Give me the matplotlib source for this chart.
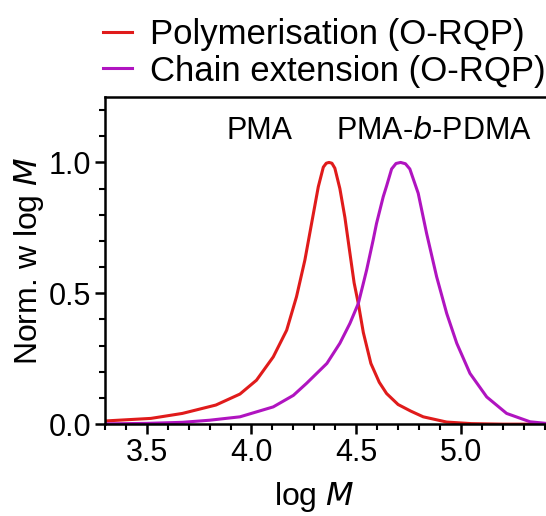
import matplotlib
matplotlib.use("Agg")
import matplotlib.pyplot as plt
from matplotlib.ticker import MultipleLocator

plt.rcParams['font.family'] = ['Liberation Sans', 'DejaVu Sans']

# GPC traces (normalised w log M) vs log M
logM_pma = [3.30, 3.32, 3.52, 3.67, 3.83, 3.945, 4.024, 4.104, 4.168, 4.215, 4.255,
            4.287, 4.319, 4.343, 4.357, 4.370, 4.384, 4.398, 4.422, 4.446, 4.470,
            4.490, 4.51, 4.534, 4.57, 4.61, 4.645, 4.70, 4.76, 4.82, 4.932, 5.05,
            5.2, 5.41]
w_pma = [0.012, 0.013, 0.022, 0.041, 0.073, 0.115, 0.168, 0.257, 0.359, 0.487, 0.627,
         0.767, 0.907, 0.982, 0.997, 1.0, 0.997, 0.978, 0.90, 0.79, 0.653,
         0.54, 0.461, 0.35, 0.232, 0.16, 0.117, 0.075, 0.05, 0.028, 0.008, 0.002,
         0.0, 0.0]

logM_ext = [3.30, 3.50, 3.67, 3.80, 3.945, 4.104, 4.20, 4.263, 4.36, 4.422, 4.470,
            4.51, 4.534, 4.55, 4.581, 4.597, 4.629, 4.645, 4.669, 4.69, 4.712,
            4.735, 4.756, 4.796, 4.836, 4.884, 4.932, 4.98, 5.043, 5.123, 5.218,
            5.33, 5.406]
w_ext = [0.001, 0.003, 0.007, 0.015, 0.028, 0.066, 0.11, 0.156, 0.232, 0.309, 0.385,
         0.461, 0.538, 0.59, 0.704, 0.767, 0.869, 0.91, 0.975, 0.996, 1.0,
         0.995, 0.975, 0.882, 0.729, 0.563, 0.423, 0.309, 0.194, 0.104, 0.041,
         0.009, 0.003]

fig = plt.figure(figsize=(5.46, 5.16), dpi=100)
ax = fig.add_axes([0.192, 0.178, 0.808, 0.634])

l1, = ax.plot(logM_pma, w_pma, color='#e01b1b', lw=2.2, solid_joinstyle='round',
              label='Polymerisation (O-RQP)')
l2, = ax.plot(logM_ext, w_ext, color='#b014c0', lw=2.2, solid_joinstyle='round',
              label='Chain extension (O-RQP)')

ax.set_xlim(3.3, 5.406)
ax.set_ylim(0, 1.25)
ax.xaxis.set_major_locator(MultipleLocator(0.5))
ax.xaxis.set_minor_locator(MultipleLocator(0.1))
ax.yaxis.set_major_locator(MultipleLocator(0.5))
ax.yaxis.set_minor_locator(MultipleLocator(0.1))
ax.xaxis.set_major_formatter('{x:.1f}')
ax.yaxis.set_major_formatter('{x:.1f}')
ax.tick_params(which='major', direction='out', length=7, width=1.8, labelsize=22, pad=3)
ax.tick_params(which='minor', direction='out', length=4, width=1.5)
ax.tick_params(top=False, right=False)
for side in ['left', 'bottom', 'top']:
    ax.spines[side].set_linewidth(1.8)
ax.spines['right'].set_visible(False)

ax.set_xlabel('log $\\mathit{M}$', fontsize=23, labelpad=4)
ax.xaxis.set_label_coords(0.475, -0.17)
ax.set_ylabel('Norm. w log $\\mathit{M}$', fontsize=23, labelpad=2)

ax.text(4.04, 1.12, 'PMA', fontsize=22, ha='center', va='center')
ax.text(4.87, 1.12, 'PMA-$\\mathit{b}$-PDMA', fontsize=22, ha='center', va='center')

fig.legend(handles=[l1, l2], loc='upper right', bbox_to_anchor=(1.018, 0.985),
           frameon=False, fontsize=25, handlelength=0.86, handletextpad=0.5,
           labelspacing=0.1, borderaxespad=0.1, borderpad=0.2)

fig.savefig('out.png', dpi=100)
